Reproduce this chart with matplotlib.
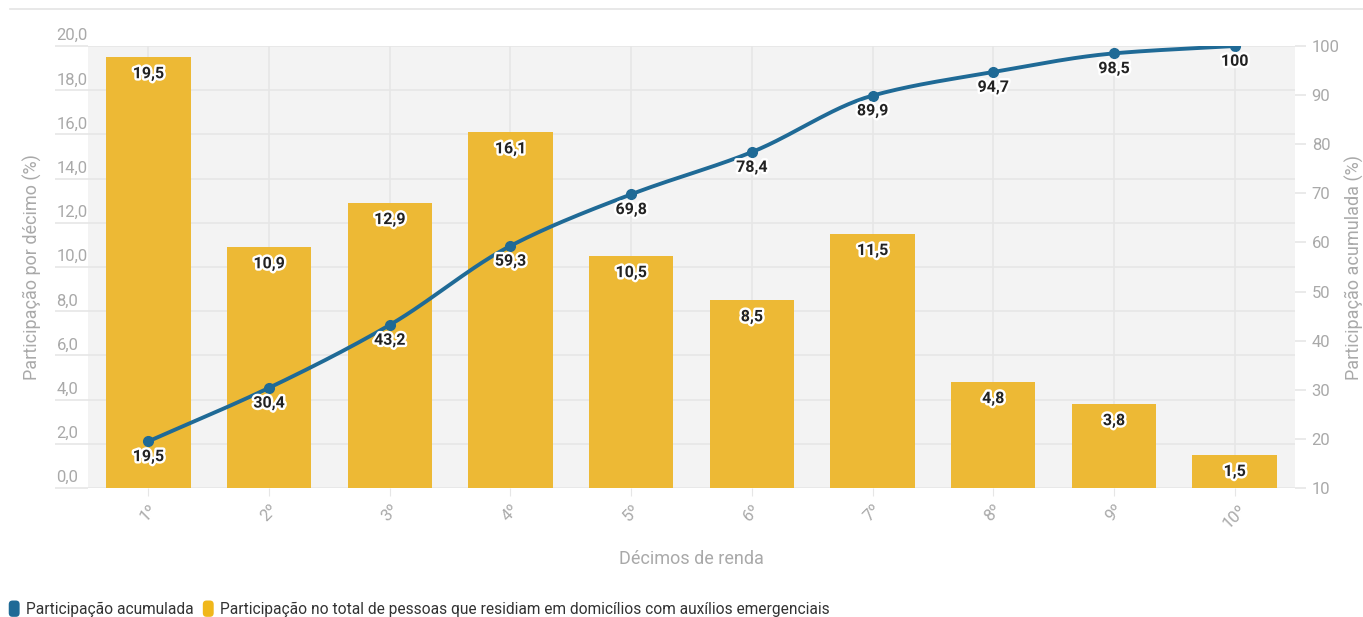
import numpy as np
import matplotlib
matplotlib.use("Agg")
import matplotlib.pyplot as plt
import matplotlib.patheffects as pe
from matplotlib.patches import FancyBboxPatch
from matplotlib.lines import Line2D
from matplotlib.legend_handler import HandlerBase

plt.rcParams['font.family'] = ['Roboto', 'DejaVu Sans']

categories = ["1º", "2º", "3º", "4º", "5º", "6º", "7º", "8º", "9º", "10º"]
share = [19.5, 10.9, 12.9, 16.1, 10.5, 8.5, 11.5, 4.8, 3.8, 1.5]
cumulative = [19.5, 30.4, 43.2, 59.3, 69.8, 78.4, 89.9, 94.7, 98.5, 100]
left_ticks = [0, 2, 4, 6, 8, 10, 12, 14, 16, 18, 20]
right_ticks = [10, 20, 30, 40, 50, 60, 70, 80, 90, 100]

BAR = "#EDB935"
LINE = "#1F6A96"
TICK = "#A9A9A9"
GRID = "#E6E6E6"
BG = "#F3F3F3"


def fmt(v):
    return f"{v:.1f}".replace(".", ",")


def monotone_curve(x, y, n=30):
    x = np.asarray(x, float)
    y = np.asarray(y, float)
    h = np.diff(x)
    d = np.diff(y) / h
    m = np.zeros_like(y)
    m[0], m[-1] = d[0], d[-1]
    for i in range(1, len(y) - 1):
        if d[i - 1] * d[i] <= 0:
            m[i] = 0
        else:
            m[i] = 2 / (1 / d[i - 1] + 1 / d[i])
    xs, ys = [], []
    for i in range(len(x) - 1):
        t = np.linspace(0, 1, n, endpoint=(i == len(x) - 2))
        h00 = 2 * t**3 - 3 * t**2 + 1
        h10 = t**3 - 2 * t**2 + t
        h01 = -2 * t**3 + 3 * t**2
        h11 = t**3 - t**2
        xs.append(x[i] + t * h[i])
        ys.append(h00 * y[i] + h10 * h[i] * m[i] + h01 * y[i + 1] + h11 * h[i] * m[i + 1])
    return np.concatenate(xs), np.concatenate(ys)


W, H = 1363, 617
fig = plt.figure(figsize=(W / 100, H / 100), dpi=100)
ax_left, ax_right, ax_top, ax_bottom = 88, 1295, 46, 488
ax = fig.add_axes([ax_left / W, 1 - ax_bottom / H, (ax_right - ax_left) / W, (ax_bottom - ax_top) / H])
ax2 = ax.twinx()
axw = ax_right - ax_left

x = np.arange(len(categories))
ax.set_facecolor(BG)
ax.bar(x, share, width=0.7, color=BAR, zorder=2)
ax.set_xlim(-0.5, len(categories) - 0.5)
ax.set_ylim(0, 20)
ax.set_yticks(left_ticks)
ax.set_yticklabels([])
ax.set_xticks(x)
ax.set_xticklabels(categories, rotation=45, ha="center")
ax.grid(True, color=GRID, linewidth=1.2, zorder=0)
ax.set_axisbelow(True)
for s in ax.spines.values():
    s.set_visible(False)
# left ticks run out under the labels, labels sit just above each line
ax.tick_params(axis="y", length=24, width=1.2, color=GRID)
ax.tick_params(axis="x", length=6, color=GRID, labelsize=12, labelcolor=TICK, pad=4)
for v in left_ticks:
    ax.annotate(fmt(v), (-33 / axw, v), xycoords=("axes fraction", "data"),
                xytext=(1, 2), textcoords="offset points",
                ha="left", va="bottom", fontsize=12, color=TICK)
ax.set_xlabel("Décimos de renda", fontsize=13, color=TICK, labelpad=14)
ax.set_ylabel("Participação por décimo (%)", fontsize=13, color=TICK)
ax.yaxis.set_label_coords(-46 / axw, 0.5)

outline = [pe.withStroke(linewidth=3.5, foreground="white")]
for xi, v in zip(x, share):
    ax.annotate(fmt(v), (xi, v), xytext=(0, -12), textcoords="offset points",
                ha="center", va="center", fontsize=11.5, fontweight="bold",
                color="#222222", path_effects=outline, zorder=5)

cx, cy = monotone_curve(x, cumulative)
ax2.plot(cx, cy, color=LINE, linewidth=2.8, zorder=4, solid_capstyle="round")
ax2.plot(x, cumulative, "o", color=LINE, markersize=7, zorder=5)
ax2.set_ylim(10, 100)
ax2.set_yticks(right_ticks)
ax2.set_yticklabels([str(v) for v in right_ticks])
ax2.tick_params(axis="y", length=8, width=1.2, color=GRID, labelsize=12, labelcolor=TICK, pad=4)
for s in ax2.spines.values():
    s.set_visible(False)
ax2.set_ylabel("Participação acumulada (%)", fontsize=13, color=TICK, labelpad=4)
for xi, v in zip(x, cumulative):
    label = fmt(v) if v != 100 else "100"
    ax2.annotate(label, (xi, v), xytext=(0, -11), textcoords="offset points",
                 ha="center", va="center", fontsize=11.5, fontweight="bold",
                 color="#222222", path_effects=outline, zorder=6)

# thin rule across the top of the figure
fig.add_artist(Line2D([10 / W, 1], [1 - 9 / H, 1 - 9 / H],
                      color="#E4E4E4", linewidth=1.2, transform=fig.transFigure))


class RoundSwatch(HandlerBase):
    def create_artists(self, legend, orig, xd, yd, width, height, fontsize, trans):
        w = height * 1.0
        p = FancyBboxPatch((xd + width - w, yd - height * 0.3), w, height * 1.5,
                           boxstyle="round,pad=0,rounding_size=%f" % (w * 0.35),
                           facecolor=orig.get_color(), edgecolor="none", transform=trans)
        return [p]


handles = [Line2D([], [], color=LINE), Line2D([], [], color="#F0B71B")]
labels = ["Participação acumulada",
          "Participação no total de pessoas que residiam em domicílios com auxílios emergenciais"]
leg = fig.legend(handles, labels, loc="lower left", bbox_to_anchor=(-0.005, -0.022),
                 ncol=2, frameon=False, fontsize=11.2, handlelength=0.8,
                 handletextpad=0.4, columnspacing=0.5,
                 handler_map={Line2D: RoundSwatch()})
for t in leg.get_texts():
    t.set_color("#333333")

fig.savefig("out.png", dpi=100)
